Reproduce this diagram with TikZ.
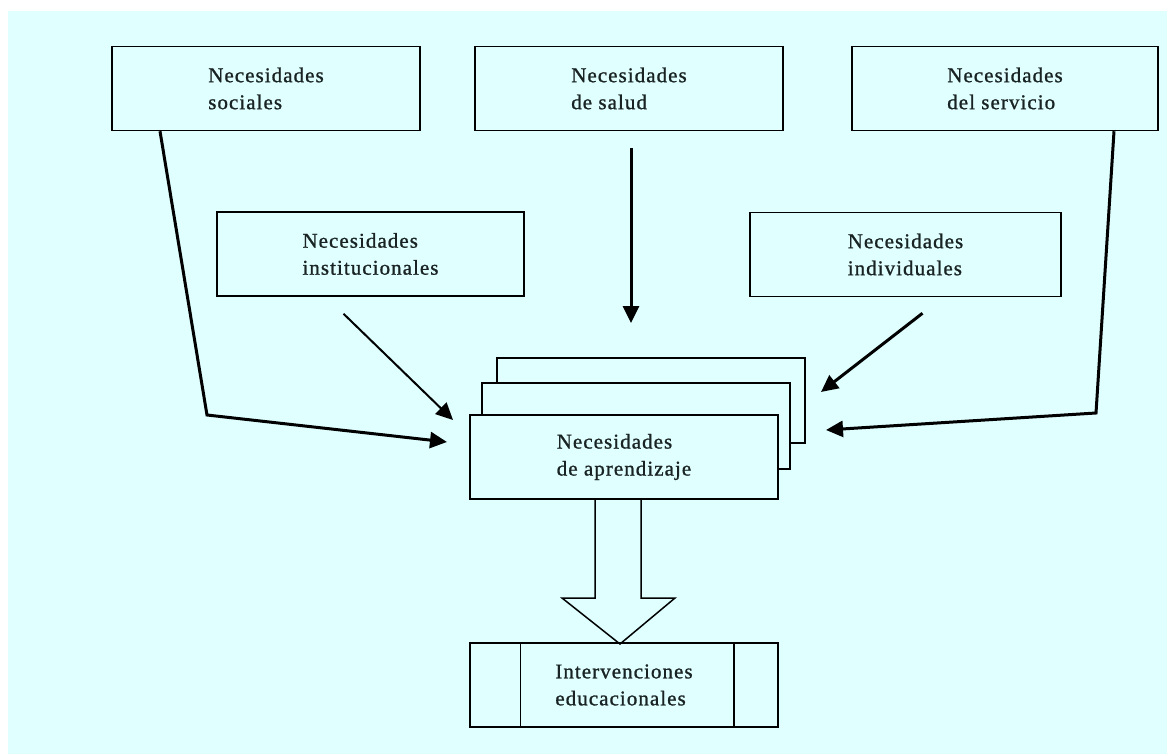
\documentclass[tikz,border=0pt]{standalone}
\usepackage{fontspec}
\setmainfont[LetterSpace=5,FakeBold=1]{Liberation Serif}
\usetikzlibrary{arrows.meta}
\definecolor{bgcyan}{RGB}{224,255,255}
\definecolor{inkgray}{RGB}{25,35,35}

\begin{document}
\begin{tikzpicture}[x=1pt,y=-1pt,
	needbox/.style={draw,line width=1.5pt,fill=bgcyan,minimum width=308pt,minimum height=84pt,align=left,inner sep=0pt,text=inkgray,font=\fontsize{21}{27}\selectfont},
	fatarrow/.style={line width=3pt,-{Triangle[length=17pt,width=16pt]}},
	thinarrow/.style={line width=2pt,-{Triangle[length=17pt,width=16pt]}}]
	\useasboundingbox (0,0) rectangle (1167,754);
	\fill[white] (0,0) rectangle (1167,754);
	\fill[bgcyan] (8,11) rectangle (1167,754);
	\node[needbox] (soc) at (266,88.5) {Necesidades\\sociales};
	\node[needbox] (sal) at (629,88.5) {Necesidades\\de salud};
	\node[needbox,minimum width=306pt] (serv) at (1005,88.5) {Necesidades\\del servicio};
	\node[needbox,minimum width=307pt] (inst) at (370.5,254) {Necesidades\\institucionales};
	\node[needbox,minimum width=311pt] (indiv) at (905.5,254.5) {Necesidades\\individuales};
	\node[needbox,minimum height=85pt] (apr3) at (651,400.5) {};
	\node[needbox,minimum height=86pt] (apr2) at (636,426) {};
	\node[needbox] (apr) at (624,457) {Necesidades\\de aprendizaje};
	\node[needbox] (interv) at (624,685) {Intervenciones\\educacionales};
	\draw[line width=1.5pt] ([xshift=51pt]interv.north west) -- ([xshift=51pt]interv.south west);
	\draw[line width=1.5pt] ([xshift=-45pt]interv.north east) -- ([xshift=-45pt]interv.south east);
	\coordinate (socbend) at (207,415);
	\coordinate (socend) at (447,442);
	\coordinate (instend) at (453,420);
	\coordinate (salend) at (631,323);
	\coordinate (indivend) at (821,392);
	\coordinate (servbend) at (1096,413);
	\coordinate (servend) at (826,430);
	\draw[fatarrow] ([xshift=-106pt]soc.south) -- (socbend) -- (socend);
	\draw[thinarrow] ([xshift=-27pt,yshift=-17pt]inst.south) -- (instend);
	\draw[fatarrow] ([xshift=2pt,yshift=-17pt]sal.south) -- (salend);
	\draw[fatarrow] ([xshift=17pt,yshift=-16pt]indiv.south) -- (indivend);
	\draw[fatarrow] ([xshift=109pt]serv.south) -- (servbend) -- (servend);
	\draw[line width=1.5pt,line join=miter] (595,499) -- (595,598) -- (562,598) -- (620,644) -- (675,598) -- (641,598) -- (641,499);
\end{tikzpicture}
\end{document}
